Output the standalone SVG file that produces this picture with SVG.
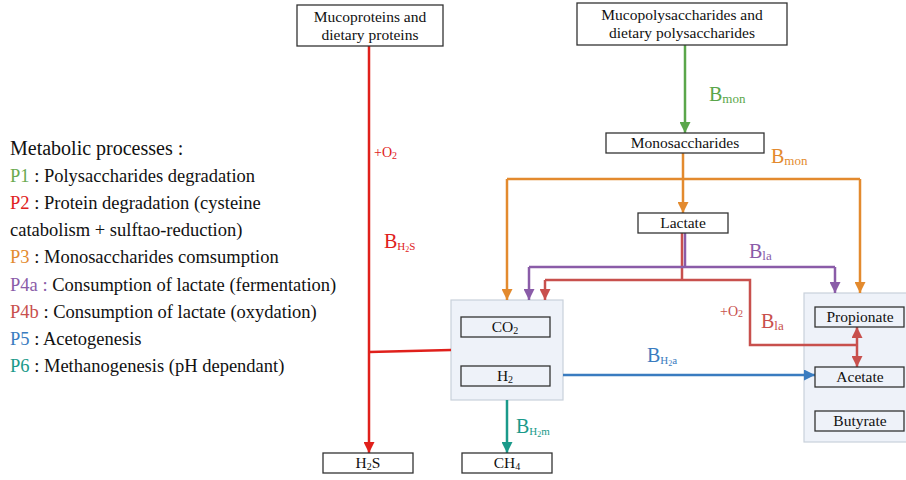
<svg xmlns="http://www.w3.org/2000/svg" width="906" height="480" viewBox="0 0 906 480">
<style>
text{font-family:"Liberation Serif","Times New Roman",serif;}
.box{fill:#fff;stroke:#333;stroke-width:1.3;}
.inbox{fill:#eef2f9;stroke:#333;stroke-width:1.3;}
.grp{fill:#eef2f9;stroke:#c9d1db;stroke-width:1.2;}
.t{font-size:15.5px;fill:#111;text-anchor:middle;}
.leg{font-size:18.5px;fill:#111;}
.ln{fill:none;stroke-width:2.5;}
.bl{font-size:20px;}
.sb{font-size:13px;}
</style>
<defs>
<marker id="aR" viewBox="0 0 10 10" refX="10" refY="5" markerWidth="11" markerHeight="11" markerUnits="userSpaceOnUse" orient="auto"><path d="M0,0L10,5L0,10z" fill="#e0201b"/></marker>
<marker id="aG" viewBox="0 0 10 10" refX="10" refY="5" markerWidth="11" markerHeight="11" markerUnits="userSpaceOnUse" orient="auto"><path d="M0,0L10,5L0,10z" fill="#5aa64a"/></marker>
<marker id="aO" viewBox="0 0 10 10" refX="10" refY="5" markerWidth="11" markerHeight="11" markerUnits="userSpaceOnUse" orient="auto"><path d="M0,0L10,5L0,10z" fill="#e38a2e"/></marker>
<marker id="aP" viewBox="0 0 10 10" refX="10" refY="5" markerWidth="11" markerHeight="11" markerUnits="userSpaceOnUse" orient="auto"><path d="M0,0L10,5L0,10z" fill="#8a5ca8"/></marker>
<marker id="aD" viewBox="0 0 10 10" refX="10" refY="5" markerWidth="11" markerHeight="11" markerUnits="userSpaceOnUse" orient="auto-start-reverse"><path d="M0,0L10,5L0,10z" fill="#c8504d"/></marker>
<marker id="aB" viewBox="0 0 10 10" refX="10" refY="5" markerWidth="11" markerHeight="11" markerUnits="userSpaceOnUse" orient="auto"><path d="M0,0L10,5L0,10z" fill="#3a7cc0"/></marker>
<marker id="aT" viewBox="0 0 10 10" refX="10" refY="5" markerWidth="11" markerHeight="11" markerUnits="userSpaceOnUse" orient="auto"><path d="M0,0L10,5L0,10z" fill="#1a9a8a"/></marker>
</defs>

<g id="legend">
<text x="10" y="155" style="font-size:20px;fill:#111">Metabolic processes :</text>
<text class="leg" x="10" y="182"><tspan fill="#6aaa50">P1</tspan> : Polysaccharides degradation</text>
<text class="leg" x="10" y="209"><tspan fill="#e02020">P2</tspan> :  Protein degradation (cysteine</text>
<text class="leg" x="10" y="236">catabolism + sulftao-reduction)</text>
<text class="leg" x="10" y="263"><tspan fill="#e38a2e">P3</tspan> : Monosaccharides comsumption</text>
<text class="leg" x="10" y="291"><tspan fill="#8a5ca8">P4a :</tspan> Consumption of lactate (fermentation)</text>
<text class="leg" x="10" y="318"><tspan fill="#c8504d">P4b</tspan> : Consumption of lactate (oxydation)</text>
<text class="leg" x="10" y="345"><tspan fill="#3a7cc0">P5</tspan> : Acetogenesis</text>
<text class="leg" x="10" y="372"><tspan fill="#1a9a8a">P6</tspan> : Methanogenesis (pH dependant)</text>
</g>

<g id="gases-bg"><rect class="grp" x="451" y="300" width="112" height="100"/></g>
<g id="scfa-bg"><rect class="grp" x="804" y="293" width="110" height="149"/></g>

<g id="connectors">
<path class="ln" stroke="#e0201b" d="M369,46V453" marker-end="url(#aR)"/>
<path class="ln" stroke="#e0201b" d="M369,352L451,350"/>
<path class="ln" stroke="#5aa64a" d="M685,45V133" marker-end="url(#aG)"/>
<path class="ln" stroke="#e38a2e" d="M683,153V213" marker-end="url(#aO)"/>
<path class="ln" stroke="#e38a2e" d="M507,179H860"/>
<path class="ln" stroke="#e38a2e" d="M507,179V300" marker-end="url(#aO)"/>
<path class="ln" stroke="#e38a2e" d="M860,179V293" marker-end="url(#aO)"/>
<path class="ln" stroke="#c8504d" d="M682,233V280"/>
<path class="ln" stroke="#c8504d" d="M545,280H750V345H857"/>
<path class="ln" stroke="#c8504d" d="M545,280V300" marker-end="url(#aD)"/>
<path class="ln" stroke="#c8504d" d="M857,327V367" marker-start="url(#aD)" marker-end="url(#aD)"/>
<path class="ln" stroke="#8a5ca8" d="M685,233V267"/>
<path class="ln" stroke="#8a5ca8" d="M529,267H835"/>
<path class="ln" stroke="#8a5ca8" d="M529,267V300" marker-end="url(#aP)"/>
<path class="ln" stroke="#8a5ca8" d="M835,267V293" marker-end="url(#aP)"/>
<path class="ln" stroke="#3a7cc0" d="M563,375H815" marker-end="url(#aB)"/>
<path class="ln" stroke="#1a9a8a" d="M507,400V453" marker-end="url(#aT)"/>

<text x="374" y="157" style="font-size:14px" fill="#e0201b">+O<tspan style="font-size:10px" dy="2">2</tspan></text>
<text x="384" y="248" fill="#e0201b"><tspan class="bl">B</tspan><tspan style="font-size:11px" dy="2">H</tspan><tspan style="font-size:8px" dy="2">2</tspan><tspan style="font-size:11px" dy="-2">S</tspan></text>
<text x="709" y="101" fill="#5aa64a"><tspan class="bl">B</tspan><tspan class="sb" dy="2">mon</tspan></text>
<text x="771" y="163" fill="#e38a2e"><tspan class="bl">B</tspan><tspan class="sb" dy="2">mon</tspan></text>
<text x="749" y="258" fill="#8a5ca8"><tspan class="bl">B</tspan><tspan class="sb" dy="2">la</tspan></text>
<text x="720" y="316" style="font-size:14px" fill="#c8504d">+O<tspan style="font-size:10px" dy="1">2</tspan></text>
<text x="761" y="328" fill="#c8504d"><tspan class="bl">B</tspan><tspan class="sb" dy="2">la</tspan></text>
<text x="647" y="362" fill="#3a7cc0"><tspan class="bl">B</tspan><tspan style="font-size:11px" dy="2">H</tspan><tspan style="font-size:8px" dy="2">2</tspan><tspan style="font-size:11px" dy="-2">a</tspan></text>
<text x="516" y="433" fill="#1a9a8a"><tspan class="bl">B</tspan><tspan style="font-size:11px" dy="2">H</tspan><tspan style="font-size:8px" dy="2">2</tspan><tspan style="font-size:11px" dy="-2">m</tspan></text>
</g>

<g id="mucoproteins">
<rect class="box" x="297" y="5" width="146" height="41"/>
<text class="t" x="370" y="22">Mucoproteins and</text>
<text class="t" x="370" y="40">dietary proteins</text>
</g>
<g id="mucopolysaccharides">
<rect class="box" x="577" y="3" width="210" height="42"/>
<text class="t" x="682" y="20">Mucopolysaccharides and</text>
<text class="t" x="682" y="38">dietary polysaccharides</text>
</g>
<g id="monosaccharides">
<rect class="box" x="606" y="133" width="158" height="20"/>
<text class="t" x="685" y="148">Monosaccharides</text>
</g>
<g id="lactate">
<rect class="box" x="638" y="213" width="90" height="20"/>
<text class="t" x="683" y="228">Lactate</text>
</g>
<g id="co2">
<rect class="inbox" x="461" y="317" width="89" height="20"/>
<text class="t" x="505" y="332">CO<tspan style="font-size:10px" dy="2">2</tspan></text>
</g>
<g id="h2">
<rect class="inbox" x="461" y="366" width="89" height="20"/>
<text class="t" x="505" y="381">H<tspan style="font-size:10px" dy="2">2</tspan></text>
</g>
<g id="propionate">
<rect class="inbox" x="815" y="307" width="89" height="20"/>
<text class="t" x="860" y="322">Propionate</text>
</g>
<g id="acetate">
<rect class="inbox" x="815" y="367" width="89" height="20"/>
<text class="t" x="860" y="382">Acetate</text>
</g>
<g id="butyrate">
<rect class="inbox" x="815" y="411" width="89" height="20"/>
<text class="t" x="860" y="426">Butyrate</text>
</g>
<g id="h2s">
<rect class="box" x="323" y="453" width="90" height="20"/>
<text class="t" x="368" y="468">H<tspan style="font-size:10px" dy="2">2</tspan><tspan dy="-2">S</tspan></text>
</g>
<g id="ch4">
<rect class="box" x="462" y="453" width="90" height="20"/>
<text class="t" x="507" y="468">CH<tspan style="font-size:10px" dy="2">4</tspan></text>
</g>
</svg>
